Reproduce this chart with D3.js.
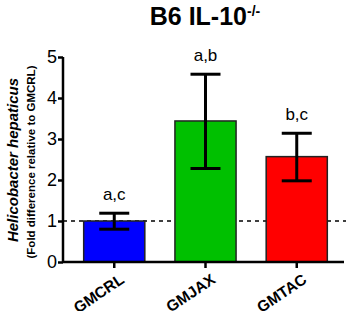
<!DOCTYPE html>
<html>
<head>
<meta charset="utf-8">
<script src="https://cdn.jsdelivr.net/npm/d3@7"></script>
<style>
body { margin: 0; background: #fff; }
text { font-family: "Liberation Sans", Arial, sans-serif; }
</style>
</head>
<body>
<div id="chart"></div>
<script>
var groups = ["GMCRL", "GMJAX", "GMTAC"];
var means = [1.0, 3.44, 2.57];
var errLow = [0.80, 2.28, 1.98];
var errHigh = [1.19, 4.58, 3.14];
var sigLabels = ["a,c", "a,b", "b,c"];
var colors = ["#0000ff", "#00c000", "#ff0000"];
var yTicks = [0, 1, 2, 3, 4, 5];

var width = 346, height = 311;
var margin = {left: 63, right: 0, top: 57, bottom: 49};

var svg = d3.select("#chart").append("svg")
    .attr("width", width)
    .attr("height", height);

var y = d3.scaleLinear().domain([0, 5]).range([height - margin.bottom, margin.top]);
var x = d3.scaleBand().domain(groups).range([70, 341]).paddingInner(0.33).paddingOuter(0.15);

// reference line at 1
svg.append("line")
    .attr("x1", margin.left).attr("x2", width)
    .attr("y1", y(1)).attr("y2", y(1))
    .attr("stroke", "#000").attr("stroke-width", 1.3)
    .attr("stroke-dasharray", "4,4");

// bars
svg.selectAll("rect.bar")
    .data(groups)
    .enter().append("rect")
    .attr("class", "bar")
    .attr("x", function(d) { return x(d); })
    .attr("width", x.bandwidth())
    .attr("y", function(d, i) { return y(means[i]); })
    .attr("height", function(d, i) { return y(0) - y(means[i]); })
    .attr("fill", function(d, i) { return colors[i]; })
    .attr("stroke", "#222")
    .attr("stroke-width", 1.5);

// error bars
var capW = 15;
groups.forEach(function(g, i) {
    var cx = x(g) + x.bandwidth() / 2;
    var e = svg.append("g").attr("stroke", "#000").attr("stroke-width", 3);
    e.append("line").attr("x1", cx).attr("x2", cx).attr("y1", y(errLow[i])).attr("y2", y(errHigh[i]));
    e.append("line").attr("x1", cx - capW).attr("x2", cx + capW).attr("y1", y(errLow[i])).attr("y2", y(errLow[i]));
    e.append("line").attr("x1", cx - capW).attr("x2", cx + capW).attr("y1", y(errHigh[i])).attr("y2", y(errHigh[i]));
    svg.append("text")
        .attr("x", cx)
        .attr("y", y(errHigh[i]) - 13)
        .attr("text-anchor", "middle")
        .style("font-size", "17px")
        .text(sigLabels[i]);
});

// y axis: ticks from the axis, numbers as tspans of one text
var yAxis = svg.append("g")
    .attr("transform", "translate(" + margin.left + ",0)")
    .call(d3.axisLeft(y).tickValues(yTicks).tickFormat("").tickSize(5));
yAxis.select(".domain").attr("stroke-width", 2.5).attr("d", "M0," + y(0) + "V" + y(5));
yAxis.selectAll(".tick line").attr("stroke-width", 2.5);

var yNums = svg.append("text")
    .attr("text-anchor", "end")
    .attr("fill", "#000")
    .style("font-size", "18px");
yNums.selectAll("tspan")
    .data(yTicks)
    .enter().append("tspan")
    .attr("x", margin.left - 6)
    .attr("y", function(d) { return y(d) + 6; })
    .text(function(d) { return String(d); });

// x axis
var xAxis = svg.append("g")
    .attr("transform", "translate(0," + y(0) + ")")
    .call(d3.axisBottom(x).tickSize(6).tickSizeOuter(0));
xAxis.select(".domain").attr("stroke-width", 2.5).attr("d", "M" + margin.left + ",0H" + (width - 2));
xAxis.selectAll(".tick line").attr("stroke-width", 2.5);
xAxis.selectAll(".tick text")
    .style("font-size", "15.5px")
    .style("font-weight", "bold")
    .attr("font-family", null)
    .attr("text-anchor", "end")
    .attr("y", 0)
    .attr("dy", null)
    .attr("transform", "translate(11,20) rotate(-34)");

// title
var title = svg.append("text")
    .attr("x", 205).attr("y", 25)
    .attr("text-anchor", "middle")
    .style("font-size", "25px")
    .style("font-weight", "bold");
title.append("tspan").text("B6 IL-10");
title.append("tspan").attr("dy", -9).style("font-size", "14px").text("-/-");

// y labels
svg.append("text")
    .attr("transform", "translate(18," + 160 + ") rotate(-90)")
    .attr("text-anchor", "middle")
    .style("font-size", "15px")
    .style("font-weight", "bold")
    .style("font-style", "italic")
    .text("Helicobacter  hepaticus");
svg.append("text")
    .attr("transform", "translate(35," + 162 + ") rotate(-90)")
    .attr("text-anchor", "middle")
    .style("font-size", "11.5px")
    .style("font-weight", "bold")
    .text("(Fold difference relative to GMCRL)");
</script>
</body>
</html>
